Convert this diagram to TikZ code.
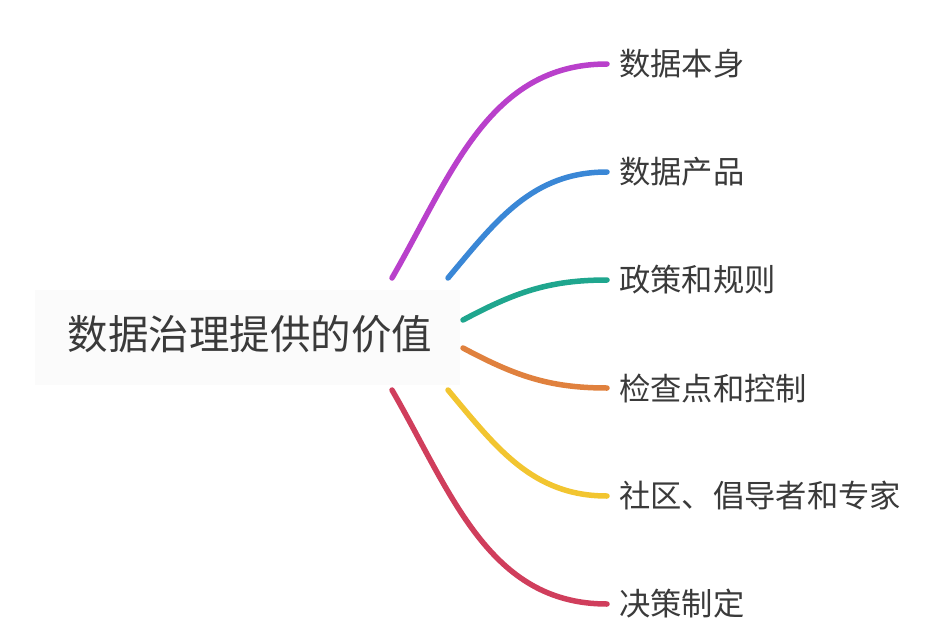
\documentclass[tikz,border=0pt]{standalone}
\usepackage{fontspec}
\setmainfont{Noto Sans CJK SC}
\definecolor{txt}{HTML}{3A3A3A}
\definecolor{cpurple}{HTML}{B940CB}
\definecolor{cblue}{HTML}{3A87D6}
\definecolor{cteal}{HTML}{1FA68E}
\definecolor{corange}{HTML}{E0813E}
\definecolor{cyellow}{HTML}{F2C530}
\definecolor{cred}{HTML}{D03E5C}

\begin{document}
\begin{tikzpicture}[x=1pt,y=1pt,line cap=round,
  branch/.style={line width=5.5pt},
  leaf/.style={anchor=west,inner xsep=12pt,inner ysep=0pt,text=txt,font=\fontsize{31.3}{36}\selectfont}]
\useasboundingbox (0,0) rectangle (937,-632);
\fill[black!1.5] (35,-290) rectangle (460,-385);
\node[text=txt,font=\fontsize{40.5}{48}\selectfont] (root) at (250,-334) {数据治理提供的价值};
% start points of the branches
\coordinate (s1) at (392,-278);
\coordinate (s2) at (448,-278);
\coordinate (s3) at (463,-320);
\coordinate (s4) at (463,-348);
\coordinate (s5) at (448,-390);
\coordinate (s6) at (392,-390);
% leaves
\node[leaf] (l1) at (607,-64) {数据本身};
\node[leaf] (l2) at (607,-172) {数据产品};
\node[leaf] (l3) at (607,-280) {政策和规则};
\node[leaf] (l4) at (607,-388) {检查点和控制};
\node[leaf] (l5) at (607,-496) {社区、倡导者和专家};
\node[leaf] (l6) at (607,-604) {决策制定};
\draw[branch,cpurple] (s1) to[out=60,in=180] (l1.west);
\draw[branch,cblue] (s2) to[out=50,in=180] (l2.west);
\draw[branch,cteal] (s3) to[out=28,in=180] (l3.west);
\draw[branch,corange] (s4) to[out=-28,in=180] (l4.west);
\draw[branch,cyellow] (s5) to[out=-50,in=180] (l5.west);
\draw[branch,cred] (s6) to[out=-60,in=180] (l6.west);
\end{tikzpicture}
\end{document}
